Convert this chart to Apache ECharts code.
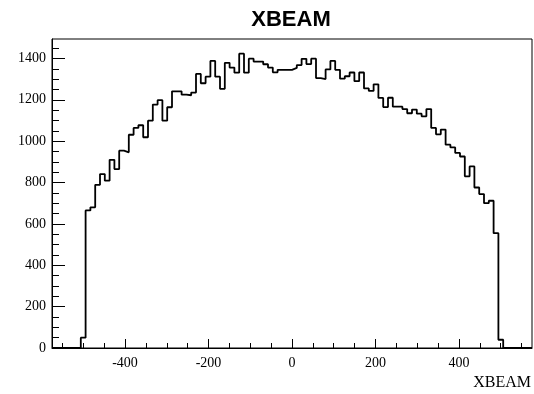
<!DOCTYPE html>
<html>
<head>
<meta charset="utf-8">
<script src="https://cdn.jsdelivr.net/npm/echarts@6/dist/echarts.min.js"></script>
<style>
html,body{margin:0;padding:0;background:#fff;}
#chart{width:534px;height:394px;}
</style>
</head>
<body>
<div id="chart"></div>
<script>
// Histogram binning (100 bins from -575 to 575)
const binLow = -575;
const binWidth = 11.5;
const counts = [
  0, 0, 0, 0, 0, 0, 50, 665, 680, 789,
  841, 809, 910, 865, 954, 946, 1031, 1064, 1077, 1019,
  1099, 1177, 1198, 1099, 1164, 1241, 1241, 1225, 1222, 1235,
  1325, 1280, 1312, 1388, 1312, 1253, 1379, 1356, 1331, 1423,
  1331, 1399, 1385, 1385, 1372, 1356, 1333, 1345, 1345, 1345,
  1354, 1368, 1398, 1373, 1399, 1305, 1300, 1347, 1388, 1345,
  1302, 1314, 1332, 1290, 1332, 1255, 1243, 1275, 1209, 1165,
  1210, 1167, 1167, 1155, 1135, 1153, 1133, 1120, 1155, 1064,
  1033, 1056, 983, 970, 943, 926, 830, 878, 776, 744,
  700, 712, 555, 40, 0, 0, 0, 0, 0, 0
];
const xMajorTicks = [-400, -200, 0, 200, 400];
const xMinorTicks = [-550, -500, -450, -350, -300, -250, -150, -100, -50, 50, 100, 150, 250, 300, 350, 450, 500, 550];
const yMajorTicks = [0, 200, 400, 600, 800, 1000, 1200, 1400];
const yMinorTicks = [50, 100, 150, 250, 300, 350, 450, 500, 550, 650, 700, 750, 850, 900, 950, 1050, 1100, 1150, 1250, 1300, 1350, 1450];
const titleText = 'XBEAM';
const xTitle = 'XBEAM';

const xMin = binLow;
const xMax = binLow + binWidth * counts.length;
const yMax = 1494;

const stepData = counts.map((c, i) => [binLow + i * binWidth, c]);
stepData.push([xMax, counts[counts.length - 1]]);

const chart = echarts.init(document.getElementById('chart'), null, {renderer: 'canvas'});
const labelFont = {fontFamily: 'Liberation Serif', fontSize: 14, color: '#000', formatter: (v) => String(v)};
chart.setOption({
  animation: false,
  backgroundColor: '#fff',
  grid: {left: 52, right: 2, top: 39, bottom: 46, show: true, borderColor: '#000', borderWidth: 1, backgroundColor: 'transparent'},
  graphic: [
    {type: 'text', x: 291, y: 20, style: {text: titleText, align: 'center', verticalAlign: 'middle', font: 'bold 22px "Liberation Sans"', fill: '#000'}},
    {type: 'text', x: 531, y: 383, style: {text: xTitle, align: 'right', verticalAlign: 'middle', font: '16px "Liberation Serif"', fill: '#000'}}
  ],
  xAxis: [
    {type: 'value', min: xMin, max: xMax, position: 'bottom',
     axisLine: {show: true, onZero: false, lineStyle: {color: '#000', width: 1}},
     axisTick: {show: true, inside: true, length: 9, customValues: xMajorTicks, lineStyle: {color: '#000', width: 1}},
     axisLabel: {show: true, customValues: xMajorTicks, margin: 8, ...labelFont},
     splitLine: {show: false}},
    {type: 'value', min: xMin, max: xMax, position: 'bottom',
     axisLine: {show: false, onZero: false},
     axisTick: {show: true, inside: true, length: 5, customValues: xMinorTicks, lineStyle: {color: '#000', width: 1}},
     axisLabel: {show: false},
     splitLine: {show: false}}
  ],
  yAxis: [
    {type: 'value', min: 0, max: yMax, position: 'left',
     axisLine: {show: true, onZero: false, lineStyle: {color: '#000', width: 1}},
     axisTick: {show: true, inside: true, length: 13, customValues: yMajorTicks, lineStyle: {color: '#000', width: 1}},
     axisLabel: {show: true, customValues: yMajorTicks, margin: 6, ...labelFont},
     splitLine: {show: false}},
    {type: 'value', min: 0, max: yMax, position: 'left',
     axisLine: {show: false, onZero: false},
     axisTick: {show: true, inside: true, length: 7, customValues: yMinorTicks, lineStyle: {color: '#000', width: 1}},
     axisLabel: {show: false},
     splitLine: {show: false}}
  ],
  series: [{
    type: 'line', xAxisIndex: 0, yAxisIndex: 0,
    step: 'end', symbol: 'none', data: stepData,
    lineStyle: {color: '#000', width: 1.8},
    clip: true
  }]
});
</script>
</body>
</html>
